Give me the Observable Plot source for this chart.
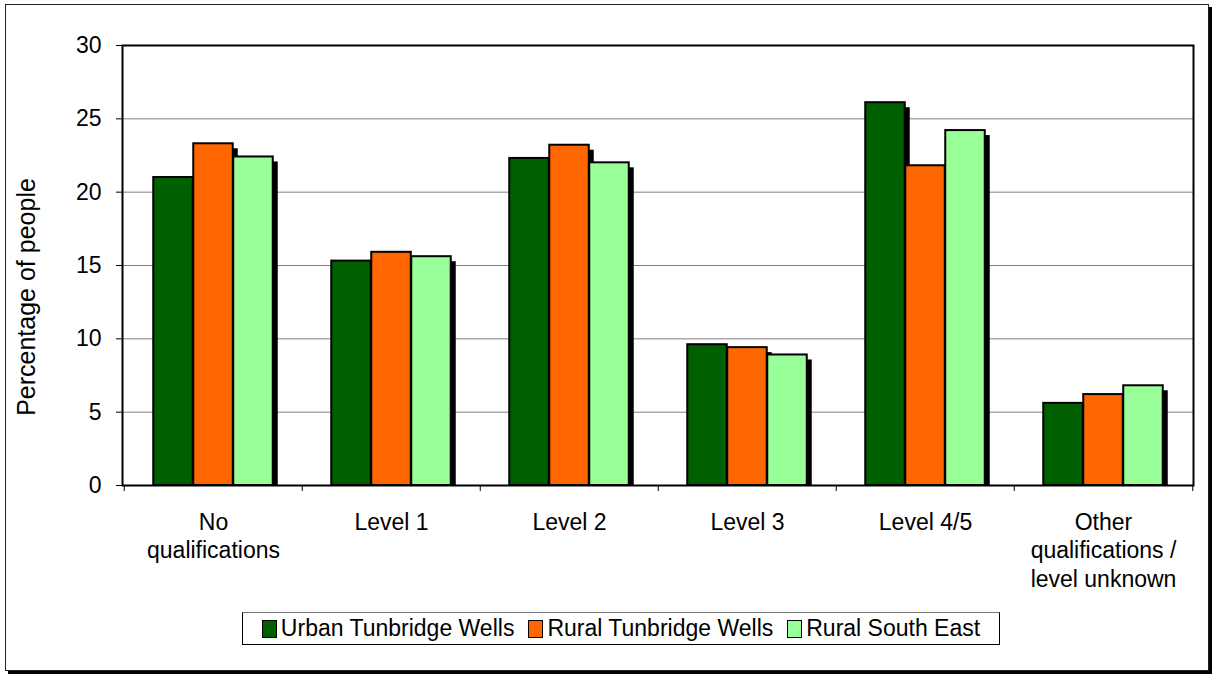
<!DOCTYPE html>
<html>
<head>
<meta charset="utf-8">
<script src="https://cdn.jsdelivr.net/npm/d3@7"></script>
<script src="https://cdn.jsdelivr.net/npm/@observablehq/plot@0.6"></script>
<style>
  html, body { margin: 0; padding: 0; background: #fff; }
  #wrap { position: relative; width: 1212px; height: 674px; overflow: hidden; background: #fff;
          font-family: "Liberation Sans", Arial, sans-serif; }
  #border { position: absolute; left: 5px; top: 4px; width: 1202px; height: 665px;
            border: 1px solid #222; box-shadow: 3px 3px 0 #000; }
  #chart { position: absolute; left: 0; top: 0; }
  #chart svg text { font-family: "Liberation Sans", Arial, sans-serif; font-size: 23px; fill: #000; }
  #ylabel { position: absolute; left: 26px; top: 297px; width: 320px; margin-left: -160px; margin-top: -15px;
            text-align: center; font-size: 25px; line-height: 30px; transform: rotate(-90deg); color: #000; }
  #legend { position: absolute; left: 242px; top: 612px; width: 756px; height: 31px;
            border: 1px solid #000; border-top-color: #777; display: flex; align-items: center;
            justify-content: center; font-size: 23px; color: #000; white-space: nowrap; }
  .item { display: flex; align-items: center; margin: 0 7px; }
  .sw { width: 13px; height: 16px; border: 1.5px solid #000; margin-right: 4px; }
</style>
</head>
<body>
<div id="wrap">
  <div id="border"></div>
  <div id="chart"></div>
  <div id="ylabel">Percentage of people</div>
  <div id="legend"></div>
</div>
<script>
const categories = ["No\nqualifications", "Level 1", "Level 2", "Level 3", "Level 4/5", "Other\nqualifications /\nlevel unknown"];
const series = ["Urban Tunbridge Wells", "Rural Tunbridge Wells", "Rural South East"];
const urbanTW = [21.0, 15.3, 22.3, 9.6, 26.1, 5.6];
const ruralTW = [23.3, 15.9, 23.2, 9.4, 21.8, 6.2];
const ruralSE = [22.4, 15.6, 22.0, 8.9, 24.2, 6.8];
const colors = ["#006000", "#ff6600", "#99ff99"];
const yTicks = [0, 5, 10, 15, 20, 25, 30];
const gridTicks = [5, 10, 15, 20, 25];

const values = [urbanTW, ruralTW, ruralSE];
const rows = [];
series.forEach((s, i) => categories.forEach((c, j) => rows.push({category: c, series: s, value: values[i][j]})));

const W = 1212, H = 674, mL = 122, mR = 19, mT = 45, mB = 189;
const bw = (W - mL - mR) / categories.length;
const barW = 40;
const inset = (bw - barW) / 2;
const offsets = [-barW, 0, barW];

const marks = [Plot.ruleY(gridTicks, {y: d => d, stroke: "#808080", strokeWidth: 1})];
series.forEach((s, i) => {
  marks.push(Plot.barY(rows.filter(r => r.series === s), {
    x: "category", y: "value", fill: "#000", dx: offsets[i] + 5, insetTop: 5,
    insetLeft: inset, insetRight: inset
  }));
});
series.forEach((s, i) => {
  marks.push(Plot.barY(rows.filter(r => r.series === s), {
    x: "category", y: "value", fill: colors[i], stroke: "#000", strokeWidth: 2,
    dx: offsets[i], insetLeft: inset, insetRight: inset
  }));
});
marks.push(Plot.frame({stroke: "#000", strokeWidth: 2}));
marks.push(Plot.ruleX(categories, {x: d => d, dx: -bw / 2, dy: 6, insetTop: (H - mT - mB) - 6, stroke: "#000"}));
marks.push(Plot.ruleX([categories[categories.length - 1]], {x: d => d, dx: bw / 2, dy: 6, insetTop: (H - mT - mB) - 6, stroke: "#000"}));
marks.push(Plot.text(categories, {x: d => d, text: d => d, frameAnchor: "bottom", lineAnchor: "top",
  dy: 25, lineHeight: 1.22, textAnchor: "middle", fill: "#000"}));

const chart = Plot.plot({
  width: W, height: H,
  marginLeft: mL, marginRight: mR, marginTop: mT, marginBottom: mB,
  style: {background: "transparent", color: "#000", fontFamily: "Liberation Sans, Arial, sans-serif", fontSize: "23px"},
  x: {domain: categories, padding: 0, axis: null},
  y: {domain: [0, 30], ticks: yTicks, tickSize: 6, tickPadding: 15, label: null},
  marks
});
document.getElementById("chart").appendChild(chart);

const legend = document.getElementById("legend");
series.forEach((s, i) => {
  const it = document.createElement("div");
  it.className = "item";
  const sw = document.createElement("div");
  sw.className = "sw";
  sw.style.background = colors[i];
  const t = document.createElement("span");
  t.textContent = s;
  it.appendChild(sw); it.appendChild(t);
  legend.appendChild(it);
});
</script>
</body>
</html>
